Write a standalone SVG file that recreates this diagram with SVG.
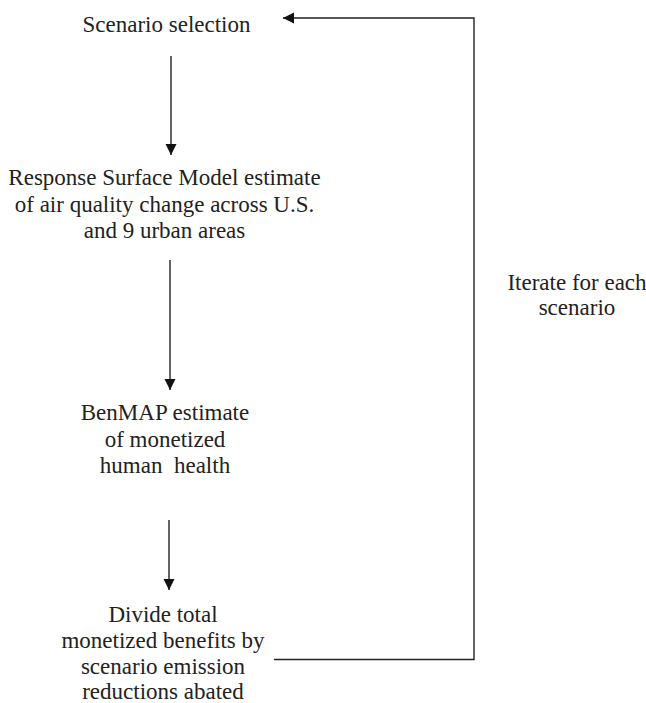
<svg xmlns="http://www.w3.org/2000/svg" width="646" height="703" viewBox="0 0 646 703">
<style>
text{font-family:"Liberation Serif","Times New Roman",serif;font-size:23px;fill:#222;text-anchor:middle;white-space:pre}
.c{stroke:#222;stroke-width:1.4;fill:none}
</style>
<defs>
<marker id="ah" markerWidth="12" markerHeight="12" refX="11" refY="5.5" orient="auto" markerUnits="userSpaceOnUse">
<path d="M0,0 L11,5.5 L0,11 z" fill="#111"/>
</marker>
</defs>
<rect width="646" height="703" fill="#fff"/>
<g id="n1"><text x="166.5" y="32">Scenario selection</text></g>
<g id="n2"><text x="164.5" y="185">Response Surface Model estimate</text><text x="164.5" y="211.5">of air quality change across U.S.</text><text x="164.5" y="238">and 9 urban areas</text></g>
<g id="n3"><text x="165" y="420">BenMAP estimate</text><text x="165" y="446.5">of monetized</text><text x="165" y="473" xml:space="preserve">human  health</text></g>
<g id="n4"><text x="163" y="622">Divide total</text><text x="163" y="648">monetized benefits by</text><text x="163" y="674">scenario emission</text><text x="163" y="699">reductions abated</text></g>
<g id="n5"><text x="577" y="290">Iterate for each</text><text x="577" y="315">scenario</text></g>
<g id="connectors">
<line class="c" x1="171" y1="56" x2="171" y2="155" marker-end="url(#ah)"/>
<line class="c" x1="170" y1="260" x2="170" y2="390" marker-end="url(#ah)"/>
<line class="c" x1="169" y1="520" x2="169" y2="590" marker-end="url(#ah)"/>
<polyline class="c" points="274,659.5 474,659.5 474,18 283,18" marker-end="url(#ah)"/>
</g>
</svg>
